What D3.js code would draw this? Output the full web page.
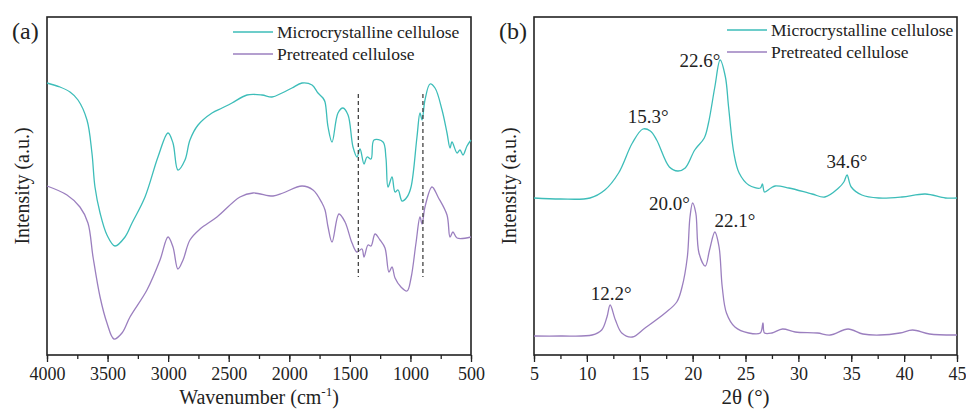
<!DOCTYPE html>
<html>
<head>
<meta charset="utf-8">
<script src="https://d3js.org/d3.v7.min.js"></script>
</head>
<body style="margin:0; background:#fff">
<div id="cont"></div>
<script>
// ---- data (intensity in arbitrary units) ----
var seriesNames = ["Microcrystalline cellulose", "Pretreated cellulose"];
var colors = ["#3dbdb9", "#9b7fbf"];

// FTIR: [wavenumber, intensity]
var ftirMCC = [[4000,272],[3893,268],[3810,263],[3744,255],[3670,235],[3629,202],[3604,168],[3562,142],
  [3505,120],[3439,109],[3356,118],[3298,132],[3191,158],[3084,198],[3001,222],[2960,212],[2919,185],
  [2861,195],[2820,215],[2753,230],[2638,242],[2555,247],[2473,252],[2349,260],[2225,260],[2143,258],
  [2060,262],[1978,267],[1895,272],[1812,270],[1763,262],[1722,257],[1705,253],[1680,228],[1647,213],
  [1598,242],[1557,247],[1515,240],[1474,208],[1441,198],[1416,206],[1383,191],[1358,198],[1325,196],
  [1301,215],[1226,213],[1202,197],[1185,168],[1152,178],[1127,163],[1102,165],[1069,154],[1028,158],
  [995,168],[946,218],[921,242],[904,235],[880,255],[838,271],[797,267],[739,245],[698,222],[673,207],
  [657,213],[615,202],[591,205],[566,200],[533,209],[500,215]];
var ftirPre = [[4000,169],[3835,160],[3728,148],[3662,132],[3620,98],[3562,58],[3505,32],[3447,16],
  [3381,22],[3315,38],[3175,65],[3067,95],[3001,118],[2960,108],[2919,86],[2877,95],[2820,115],
  [2737,126],[2597,138],[2407,158],[2299,162],[2134,159],[2052,162],[1895,169],[1804,165],[1730,152],
  [1705,145],[1680,128],[1647,113],[1590,141],[1540,133],[1482,112],[1441,103],[1400,106],[1383,98],
  [1350,110],[1325,109],[1292,121],[1251,115],[1210,107],[1177,83],[1152,88],[1127,77],[1078,68],
  [1028,64],[995,77],[954,112],[921,138],[904,131],[880,148],[822,168],[772,158],[698,140],[673,118],
  [649,123],[615,117],[500,118]];
var ftirMarks = [1430, 897];
var ftirMarkRange = [78, 261];

// XRD: [2theta, intensity]
var xrdMCC = [[5,157],[7.5,156],[10.3,157],[11.7,165],[13.0,182],[14.3,212],[15.3,226],[16.0,224],
  [16.6,215],[17.8,188],[18.6,184],[19.3,187],[20.2,205],[21.1,217],[21.5,232],[22.1,268],[22.6,295],
  [23.1,278],[23.4,248],[23.9,202],[24.4,182],[25.3,170],[26.4,167],[26.6,171],[26.8,163],[27.4,167],
  [27.8,169],[29.1,167],[31.3,161],[32.5,158],[33.8,167],[34.3,173],[34.6,180],[35.0,168],[36.0,160],
  [37.6,157],[39.8,158],[42.0,161],[43.9,157],[45,157]];
var xrdPre = [[5,19],[7.5,19],[10.5,20],[11.4,25],[11.9,38],[12.2,50],[12.7,35],[13.3,22],[14.3,18],
  [15.5,27],[17.4,42],[18.5,53],[19.0,68],[19.5,98],[19.75,138],[20.0,152],[20.3,142],[20.6,102],
  [21.2,89],[21.6,105],[22.1,123],[22.5,108],[22.8,68],[23.2,42],[24.0,28],[25.3,22],[26.4,22],
  [26.65,32],[26.8,22],[27.5,22],[28.5,26],[29.7,23],[31.8,22],[33.0,20],[34.7,26],[36.1,21],
  [37.7,20],[39.6,22],[40.8,25],[42.4,21],[45,20]];
// peak labels: [text, 2theta, intensity] of the label anchor
var xrdLabels = [["15.3°",15.8,232],["22.6°",20.7,288],["34.6°",34.6,187],
  ["20.0°",17.8,145],["22.1°",24.0,128],["12.2°",12.3,55]];

var ftirTicks = [4000,3500,3000,2500,2000,1500,1000,500];
var xrdTicks = [5,10,15,20,25,30,35,40,45];

// ---- layout ----
var serif = "Liberation Serif";
var ink = "#222";

var svg = d3.select("#cont").append("svg")
  .attr("width", 966).attr("height", 410)
  .attr("font-family", serif).attr("fill", ink);

var plotTop = 17, plotBottom = 355;
var y = d3.scaleLinear().domain([0, 338]).range([plotBottom, plotTop]);

var panels = [
  { left: 47, right: 471, domain: [4000, 500], ticks: ftirTicks, minorStep: 250,
    tag: "(a)", tagX: 12, series: [ftirMCC, ftirPre], legX: 233, legY: 32 },
  { left: 534, right: 957, domain: [5, 45], ticks: xrdTicks, minorStep: 2.5,
    tag: "(b)", tagX: 499, series: [xrdMCC, xrdPre], legX: 727, legY: 30 }
];

panels.forEach(function(p) {
  var g = svg.append("g");
  var x = d3.scaleLinear().domain(p.domain).range([p.left, p.right]);
  p.x = x;

  var lo = Math.min(p.domain[0], p.domain[1]), hi = Math.max(p.domain[0], p.domain[1]);
  var minor = d3.range(lo, hi + 1e-9, p.minorStep);

  g.append("g").attr("transform", "translate(0," + plotBottom + ")")
    .call(d3.axisBottom(x).tickValues(minor).tickSize(4).tickFormat(""))
    .call(function(a) { a.select(".domain").remove(); a.selectAll("line").attr("stroke", ink).attr("stroke-width", 1.3); });

  g.append("g").attr("transform", "translate(0," + plotBottom + ")")
    .call(d3.axisBottom(x).tickValues(p.ticks).tickSize(7).tickPadding(5).tickFormat(d3.format("d")))
    .call(function(a) {
      a.attr("font-family", serif).attr("font-size", 18);
      a.select(".domain").remove();
      a.selectAll("line").attr("stroke", ink).attr("stroke-width", 1.3);
      a.selectAll("text").attr("fill", ink);
    });

  // frame
  g.append("rect").attr("x", p.left).attr("y", plotTop)
    .attr("width", p.right - p.left).attr("height", plotBottom - plotTop)
    .attr("fill", "none").attr("stroke", ink).attr("stroke-width", 1.6);

  var line = d3.line().x(function(d) { return x(d[0]); }).y(function(d) { return y(d[1]); })
    .curve(d3.curveCatmullRom.alpha(0.5));

  p.series.forEach(function(s, i) {
    g.append("path").datum(s)
      .attr("d", line)
      .attr("fill", "none").attr("stroke", colors[i]).attr("stroke-width", 1.3);
  });

  // legend
  seriesNames.forEach(function(n, i) {
    var ly = p.legY + i * 22;
    g.append("line").attr("x1", p.legX).attr("x2", p.legX + 40)
      .attr("y1", ly).attr("y2", ly).attr("stroke", colors[i]).attr("stroke-width", 1.3);
    g.append("text").attr("x", p.legX + 44).attr("y", ly + 6)
      .attr("font-size", 17.5).text(n);
  });

  g.append("text").attr("x", p.tagX).attr("y", 39).attr("font-size", 24).text(p.tag);

  // y title
  g.append("text")
    .attr("transform", "translate(" + (p.left - 18) + "," + ((plotTop + plotBottom) / 2) + ") rotate(-90)")
    .attr("text-anchor", "middle").attr("font-size", 20).text("Intensity (a.u.)");
});

// FTIR x title with superscript
var t1 = svg.append("text").attr("x", (panels[0].left + panels[0].right) / 2).attr("y", 404)
  .attr("text-anchor", "middle").attr("font-size", 20);
t1.append("tspan").text("Wavenumber (cm");
t1.append("tspan").attr("font-size", 13).attr("dy", -8).text("-1");
t1.append("tspan").attr("dy", 8).text(")");

svg.append("text").attr("x", (panels[1].left + panels[1].right) / 2).attr("y", 404)
  .attr("text-anchor", "middle").attr("font-size", 21).text("2θ (°)");

// dashed marker lines on FTIR
var xa = panels[0].x;
svg.selectAll("line.mark").data(ftirMarks).enter().append("line")
  .attr("class", "mark")
  .attr("x1", function(d) { return xa(d); }).attr("x2", function(d) { return xa(d); })
  .attr("y1", y(ftirMarkRange[1])).attr("y2", y(ftirMarkRange[0]))
  .attr("stroke", "#444").attr("stroke-width", 1.3).attr("stroke-dasharray", "4,3");

// XRD peak labels
var xb = panels[1].x;
svg.selectAll("text.peak").data(xrdLabels).enter().append("text")
  .attr("class", "peak")
  .attr("x", function(d) { return xb(d[1]); })
  .attr("y", function(d) { return y(d[2]); })
  .attr("text-anchor", "middle").attr("font-size", 19)
  .text(function(d) { return d[0]; });
</script>
</body>
</html>
